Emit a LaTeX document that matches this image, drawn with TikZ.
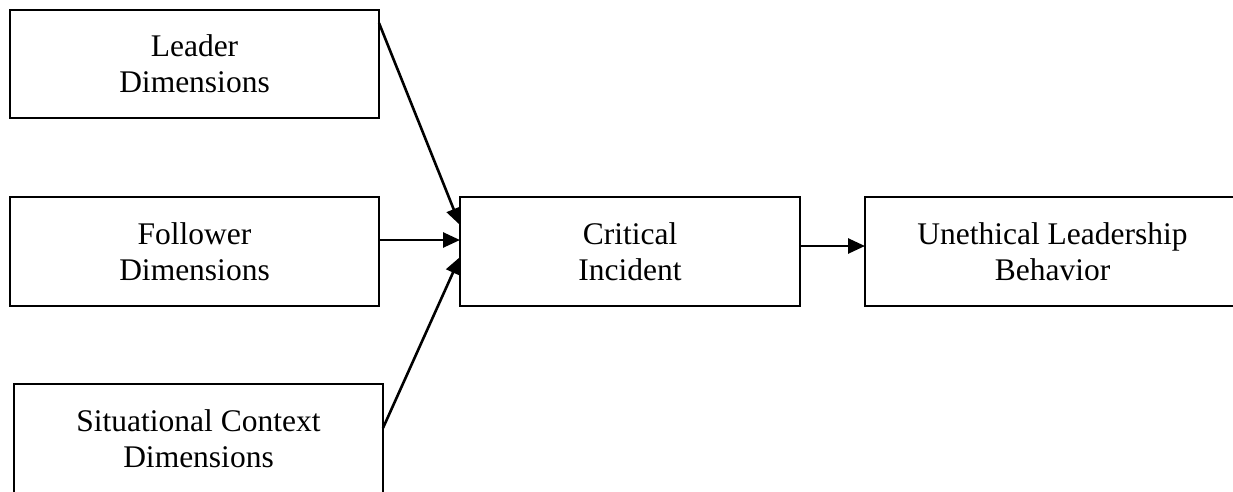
\documentclass[tikz,border=0pt]{standalone}
\usepackage{fontspec}
\setmainfont{Liberation Serif}
\usetikzlibrary{arrows.meta, positioning}

\begin{document}
\begin{tikzpicture}[
  x=1pt, y=-1pt,
  block/.style={rectangle, draw, line width=2.4pt, outer sep=0pt, minimum height=109pt, align=center, font=\fontsize{31.5}{36}\selectfont},
  >={Triangle[length=17pt, width=15pt]},
]
  \useasboundingbox (0,0) rectangle (1233,491);

  \node[block, minimum width=369pt, minimum height=108pt, anchor=north west] (leader) at (10,10) {Leader\\Dimensions};
  \node[block, minimum width=369pt, below=79pt of leader] (follower) {Follower\\Dimensions};
  \node[block, minimum width=369pt, below=78pt of follower, xshift=4pt] (situation) {Situational Context\\Dimensions};
  \node[block, minimum width=340pt, right=81pt of follower] (incident) {Critical\\Incident};
  \node[block, minimum width=375pt, right=65pt of incident] (unethical) {Unethical Leadership\\Behavior};

  \draw[->, line width=2.6pt] ([yshift=-13pt]leader.north east) -- ([yshift=26.5pt]incident.west);
  \draw[->, line width=2.6pt] ([yshift=11.5pt]follower.east) -- ([yshift=11.5pt]incident.west);
  \draw[->, line width=2.6pt] ([yshift=10.5pt]situation.east) -- ([yshift=-5.5pt]incident.west);
  \draw[->, line width=2.6pt] ([yshift=5.5pt]incident.east) -- ([yshift=5.5pt]unethical.west);
\end{tikzpicture}
\end{document}
